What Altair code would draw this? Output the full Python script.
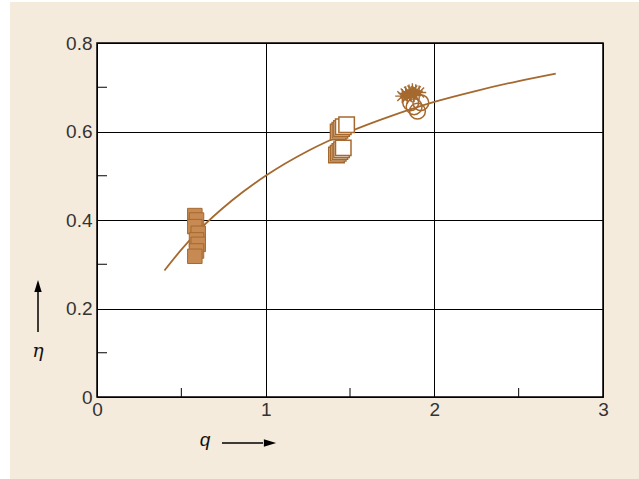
import altair as alt
import pandas as pd

# Fitted efficiency curve eta(q)
curve_q = [0.40, 0.50, 0.60, 0.80, 1.00, 1.25, 1.50, 1.75, 2.00, 2.25, 2.50, 2.72]
curve_eta = [0.286, 0.333, 0.375, 0.444, 0.500, 0.556, 0.600, 0.636, 0.667, 0.692, 0.714, 0.731]

# Measured points, grouped by marker style
filled_sq_q = [0.58, 0.59, 0.58, 0.60, 0.59, 0.60, 0.59, 0.58]
filled_sq_eta = [0.410, 0.400, 0.385, 0.370, 0.355, 0.345, 0.330, 0.318]

open_sq_q = [1.43, 1.44, 1.45, 1.46, 1.48, 1.42, 1.43, 1.44, 1.45, 1.46]
open_sq_eta = [0.599, 0.603, 0.607, 0.611, 0.615, 0.547, 0.551, 0.555, 0.559, 0.563]

circle_q = [1.86, 1.92, 1.90, 1.88]
circle_eta = [0.665, 0.665, 0.646, 0.656]

star_q = [1.81, 1.83, 1.85, 1.87, 1.89, 1.91, 1.84, 1.86, 1.88]
star_eta = [0.680, 0.686, 0.690, 0.693, 0.691, 0.688, 0.678, 0.684, 0.682]

# Tick values
x_major = [0, 1, 2, 3]
y_major = [0, 0.2, 0.4, 0.6, 0.8]
x_minor = [0.5, 1.5, 2.5]
y_minor = [0.1, 0.3, 0.5, 0.7]

BROWN = "#A5692F"
FONT = "Liberation Sans"

W, H = 506, 354
xs = alt.Scale(domain=[0, 3], nice=False, zero=False)
ys = alt.Scale(domain=[0, 0.8], nice=False, zero=False)

curve_df = pd.DataFrame({"q": curve_q, "eta": curve_eta})
fsq = pd.DataFrame({"q": filled_sq_q, "eta": filled_sq_eta})
osq = pd.DataFrame({"q": open_sq_q, "eta": open_sq_eta})
cir = pd.DataFrame({"q": circle_q, "eta": circle_eta})
sta = pd.DataFrame({"q": star_q, "eta": star_eta})

# White margin strip along the left and top edges of the page
margin = alt.Chart(pd.DataFrame({"a": [0, 1]})).mark_rect(color="white").encode(
    x=alt.value(-97), x2=alt.value(-87), y=alt.value(-43), y2=alt.value(436))
margin_top = alt.Chart(pd.DataFrame({"a": [0]})).mark_rect(color="white").encode(
    x=alt.value(-97), x2=alt.value(542), y=alt.value(-43), y2=alt.value(-41))

base_axes = alt.Chart(pd.DataFrame({"q": [0], "eta": [0]})).mark_point(opacity=0).encode(
    x=alt.X("q:Q", scale=xs, axis=alt.Axis(
        values=x_major, title=None, grid=True, gridColor="#000", gridWidth=1,
        gridOpacity=1, domain=False, ticks=False, labelFontSize=19, labelFont=FONT,
        labelColor="#333", labelPadding=3, labelFlush=False, format="~g")),
    y=alt.Y("eta:Q", scale=ys, axis=alt.Axis(
        values=y_major, title=None, grid=True, gridColor="#000", gridWidth=1,
        gridOpacity=1, domain=False, ticks=False, labelFontSize=19, labelFont=FONT,
        labelColor="#333", labelPadding=5, format="~g")),
)

minor_x = alt.Chart(pd.DataFrame({"q": x_minor})).mark_rule(color="#000", strokeWidth=1).encode(
    x=alt.X("q:Q", scale=xs), y=alt.value(H), y2=alt.value(H - 9))
minor_y = alt.Chart(pd.DataFrame({"eta": y_minor})).mark_rule(color="#000", strokeWidth=1).encode(
    y=alt.Y("eta:Q", scale=ys), x=alt.value(0), x2=alt.value(10))

line = alt.Chart(curve_df).mark_line(color=BROWN, strokeWidth=1.8, interpolate="monotone").encode(
    x=alt.X("q:Q", scale=xs), y=alt.Y("eta:Q", scale=ys))

filled = alt.Chart(fsq).mark_point(shape="square", size=210, filled=True, fill="#C78A52",
                                    stroke="#A5692F", strokeWidth=1, opacity=1).encode(
    x=alt.X("q:Q", scale=xs), y=alt.Y("eta:Q", scale=ys))
opened = alt.Chart(osq).mark_point(shape="square", size=240, filled=True, fill="white",
                                    stroke=BROWN, strokeWidth=1.5, opacity=1).encode(
    x=alt.X("q:Q", scale=xs), y=alt.Y("eta:Q", scale=ys))
circles = alt.Chart(cir).mark_point(shape="circle", size=250, filled=False, stroke=BROWN,
                                     strokeWidth=1.5, opacity=1).encode(
    x=alt.X("q:Q", scale=xs), y=alt.Y("eta:Q", scale=ys))
star_path = "M -1 0 L 1 0 M 0 -1 L 0 1 M -0.7 -0.7 L 0.7 0.7 M -0.7 0.7 L 0.7 -0.7"
stars = alt.Chart(sta).mark_point(shape=star_path, size=200, filled=False, stroke=BROWN,
                                   strokeWidth=1.4, opacity=1).encode(
    x=alt.X("q:Q", scale=xs), y=alt.Y("eta:Q", scale=ys))

# Axis titles with arrows
q_title = alt.Chart(pd.DataFrame({"t": ["q"]})).mark_text(
    fontSize=19, font=FONT, fontStyle="italic", color="#111", align="center", baseline="middle"
).encode(text="t:N", x=alt.value(108), y=alt.value(397))
q_arrow = alt.Chart(pd.DataFrame({"a": [0]})).mark_rule(color="#000", strokeWidth=1.5).encode(
    x=alt.value(125), x2=alt.value(166), y=alt.value(400))
q_head = alt.Chart(pd.DataFrame({"a": [0]})).mark_point(
    shape="M -1 -0.6 L 1 0 L -1 0.6 Z", size=150, filled=True, color="#000", opacity=1
).encode(x=alt.value(173), y=alt.value(400))

eta_title = alt.Chart(pd.DataFrame({"t": ["η"]})).mark_text(
    fontSize=19, font="DejaVu Serif", fontStyle="italic", color="#111", align="center",
    baseline="middle").encode(text="t:N", x=alt.value(-59), y=alt.value(308))
eta_arrow = alt.Chart(pd.DataFrame({"a": [0]})).mark_rule(color="#000", strokeWidth=1.5).encode(
    x=alt.value(-59), y=alt.value(289), y2=alt.value(246))
eta_head = alt.Chart(pd.DataFrame({"a": [0]})).mark_point(
    shape="M -0.6 1 L 0 -1 L 0.6 1 Z", size=150, filled=True, color="#000", opacity=1
).encode(x=alt.value(-59), y=alt.value(243))

chart = alt.layer(
    margin, margin_top, base_axes, minor_x, minor_y, line, filled, opened, circles, stars,
    q_title, q_arrow, q_head, eta_title, eta_arrow, eta_head
).properties(
    width=W, height=H,
    background="#F5EBDC",
    padding={"left": 97, "top": 43, "right": 36, "bottom": 82},
    autosize=alt.AutoSizeParams(type="none"),
).configure_view(
    fill="white", stroke="#000", strokeWidth=1.5
)

chart.save("out.html", embed_options={"renderer": "svg", "actions": False})
